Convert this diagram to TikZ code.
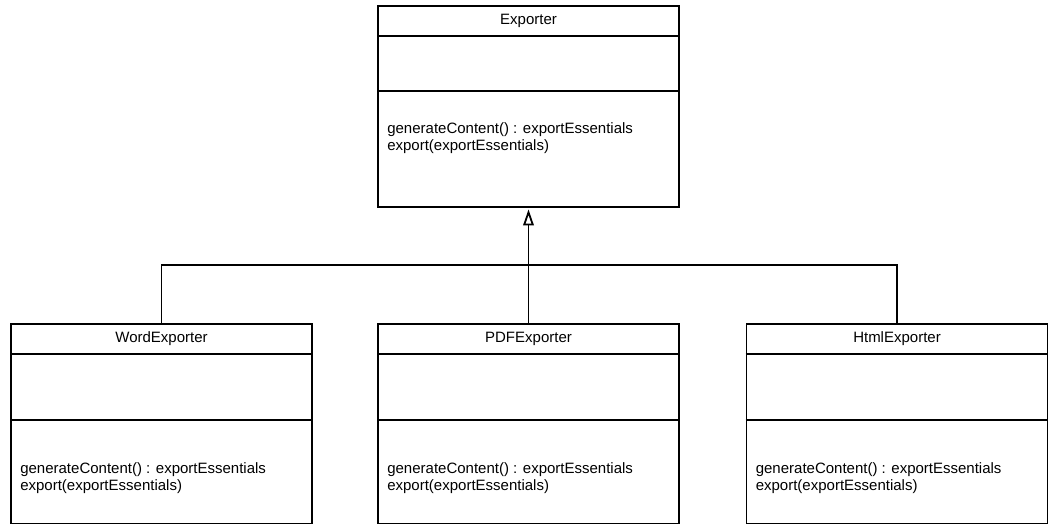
\documentclass[tikz,border=0pt]{standalone}
\usepackage{fontspec}
\setmainfont{Liberation Sans}
\usetikzlibrary{arrows.meta}
\tikzset{
  classbox/.style={draw=black, line width=1.8pt, fill=white, rectangle, inner sep=0pt},
  sep/.style={draw=black, line width=1.8pt},
  title/.style={inner sep=0pt, font=\fontsize{15}{17}\selectfont},
  ops/.style={inner sep=0pt, anchor=west, align=left, font=\fontsize{15}{17}\selectfont},
  link/.style={draw=black, line width=1.8pt},
  inherit/.style={link, -{Triangle[open, length=16pt, width=10.5pt, line width=1.8pt, fill=white]}, shorten >=1.5pt}
}
\begin{document}
\begin{tikzpicture}[x=1pt, y=-1pt]
\useasboundingbox[fill=white] (0,0) rectangle (1054,524);

% superclass
\node[classbox, minimum width=301pt, minimum height=201pt] (ex) at (528.5,106.5) {};
\node[title] (exT) at ([yshift=-15.5pt]ex.north) {Exporter};
\draw[sep] ([yshift=-31pt]ex.north west) -- ([yshift=-31pt]ex.north east);
\draw[sep] ([yshift=-86pt]ex.north west) -- ([yshift=-86pt]ex.north east);
\node[ops] (exM) at ([xshift=10pt, yshift=-133pt]ex.north west)
  {generateContent() : exportEssentials\\export(exportEssentials)};

% subclasses
\foreach \nm/\cx/\lbl in {word/161.5/WordExporter, pdf/528.5/PDFExporter, html/897/HtmlExporter}{
  \node[classbox, minimum width=301pt, minimum height=200pt] (\nm) at (\cx,424) {};
  \node[title] (\nm T) at ([yshift=-15.5pt]\nm.north) {\lbl};
  \draw[sep] ([yshift=-31pt]\nm.north west) -- ([yshift=-31pt]\nm.north east);
  \draw[sep] ([yshift=-97pt]\nm.north west) -- ([yshift=-97pt]\nm.north east);
  \node[ops] (\nm M) at ([xshift=10pt, yshift=-155.5pt]\nm.north west)
    {generateContent() : exportEssentials\\export(exportEssentials)};
}

% generalization connectors
\coordinate (bus) at (528.5,265);
\draw[link] (word.north) |- (bus);
\draw[link] (html.north) |- (bus);
\draw[inherit] (pdf.north) -- (ex.south);
\end{tikzpicture}
\end{document}
